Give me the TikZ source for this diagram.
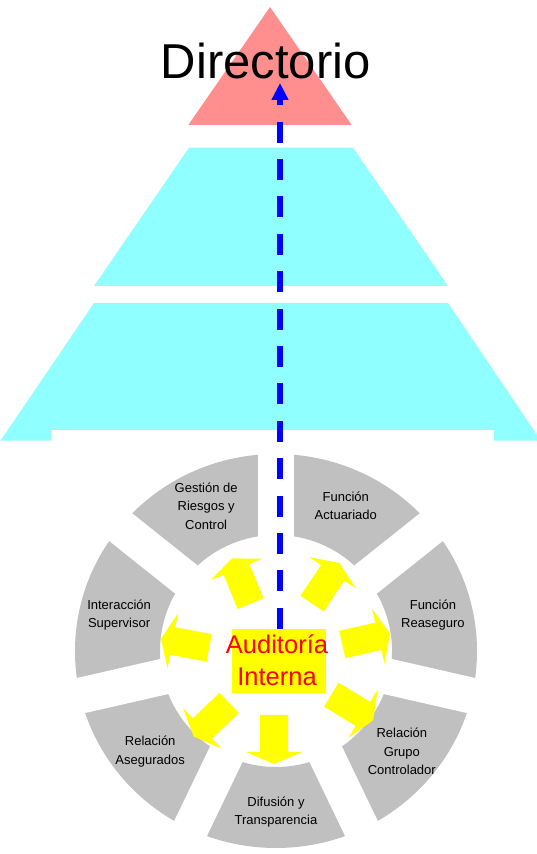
\documentclass[tikz,border=0pt]{standalone}
\usepackage{fontspec}
\setmainfont{Liberation Sans}
\usetikzlibrary{positioning,arrows.meta}
\definecolor{PyramidPink}{RGB}{255,143,143}
\definecolor{PyramidCyan}{RGB}{143,255,255}
\definecolor{WheelGray}{RGB}{192,192,192}
\definecolor{AuditYellow}{RGB}{255,255,0}
\definecolor{AuditRed}{RGB}{255,0,0}
\definecolor{LinkBlue}{RGB}{0,0,255}

\tikzset{
	layerfill/.style={fill=PyramidCyan},
	sectorlabel/.style={
		font=\fontsize{13}{18.5}\selectfont,
		align=center,
		inner sep=0pt
	},
	outarrow/.style={fill=AuditYellow}
}

\begin{document}
\begin{tikzpicture}[x=1pt,y=1pt]
	
	\useasboundingbox (0,0) rectangle (537,854);
	
	% pyramid
	\fill[PyramidPink] (270,847) -- (351.7,729) -- (188.3,729) -- cycle;
	\fill[layerfill] (189,706.3) -- (353,706.3) -- (448,568) -- (94,568) -- cycle;
	\fill[layerfill] (94,551) -- (448,551) -- (537,419) -- (537,413.3)
		-- (494,413.3) -- (494,424) -- (51.7,424) -- (51.7,413.3)
		-- (0.5,413.3) -- cycle;
	
	\node[
	font=\fontsize{49}{49}\selectfont,
	anchor=base,
	inner sep=0pt
	]
	(dir) at (265.8,775.7)
	{Directorio};
	
	% wheel
	\coordinate (wc) at (276,203);
	\fill[WheelGray, even odd rule] (wc) ellipse [x radius=201, y radius=197]
		(wc) circle [radius=116];
	\foreach \a in {90,141.43,192.86,244.29,295.71,347.14,38.57}
		\draw[white, line width=36pt] (wc) -- ++(\a:205);
	
	\foreach \a/\txt [count=\i] in {
		115.7/{Gestión de\\Riesgos y\\Control},
		64.3/{Función\\Actuariado},
		12.9/{Función\\Reaseguro},
		-38.6/{Relación\\Grupo\\Controlador},
		-90/{Difusión y\\Transparencia},
		-141.4/{Relación\\Asegurados},
		167.1/{Interacción\\Supervisor}}
		\node[sectorlabel] (sec\i) at ([shift={(\a:161)}]wc) {\txt};
	
	% arrows out of the centre
	\coordinate (ac) at (274,194);
	\foreach \a/\r in {112.5/61,56/68,12.8/70,-31.2/67,-90/55,223.7/62,169.4/66}
		\fill[outarrow, shift={(ac)}, rotate=\a]
			(\r,-14) -- (\r+37,-14) -- (\r+37,-28) -- (\r+49,0)
			-- (\r+37,28) -- (\r+37,14) -- (\r,14) -- cycle;
	
	\node[
	fill=AuditYellow,
	minimum width=94pt,
	minimum height=64.3pt,
	inner sep=0pt
	]
	(audit) at (278.7,192.8)
	{};
	
	\node[
	font=\fontsize{25.5}{31.7}\selectfont,
	text=AuditRed,
	align=center,
	inner sep=0pt
	]
	(audittext) at (277,193.5)
	{Auditoría\\Interna};
	
	% link up to the board
	\coordinate (dirtip) at (280,771);
	\draw[
	LinkBlue,
	line width=6pt,
	dash pattern=on 21pt off 16.4pt,
	-{Triangle[width=16pt,length=17pt]}
	]
	(audit.north -| dirtip) -- (dirtip);
	
\end{tikzpicture}
\end{document}
